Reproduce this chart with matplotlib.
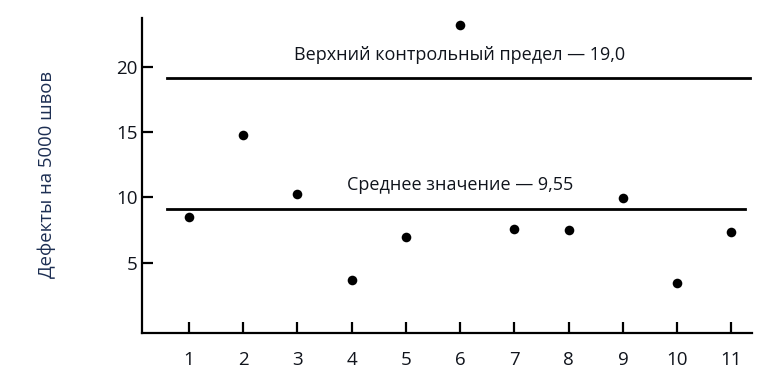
import matplotlib
matplotlib.use("Agg")
import matplotlib.pyplot as plt

# Data
samples = [1, 2, 3, 4, 5, 6, 7, 8, 9, 10, 11]
defects = [8.47, 14.77, 10.3, 3.7, 6.94, 23.2, 7.55, 7.47, 9.92, 3.47, 7.32]
ucl_value = 19.15
mean_value = 9.15
ucl_label = "Верхний контрольный предел — 19,0"
mean_label = "Среднее значение — 9,55"
y_label = "Дефекты на 5000 швов"
y_ticks = [5, 10, 15, 20]

plt.rcParams['font.family'] = ['Open Sans', 'DejaVu Sans']

fig = plt.figure(figsize=(7.83, 3.78), dpi=100)
ax = fig.add_axes([0.1814, 0.119, 0.7790, 0.833])

ax.scatter(samples, defects, s=48, color='black', zorder=3, linewidths=0)

ax.plot([0.6, 11.35], [ucl_value, ucl_value], color='black', lw=2.0)
ax.plot([0.6, 11.26], [mean_value, mean_value], color='black', lw=2.0)

ax.text(2.94, 20.2, ucl_label, fontsize=13, ha='left', va='bottom', color='#10141c')
ax.text(3.91, 10.3, mean_label, fontsize=13, ha='left', va='bottom', color='#10141c')

ax.set_xlim(0.134, 11.38)
ax.set_ylim(-0.4, 23.75)
ax.set_xticks(samples)
ax.set_xticklabels([str(s) for s in samples])
ax.set_yticks(y_ticks)

for side in ['top', 'right']:
    ax.spines[side].set_visible(False)
for side in ['left', 'bottom']:
    ax.spines[side].set_linewidth(1.6)

ax.tick_params(axis='both', direction='in', length=8, width=1.6, labelsize=13.5,
               labelcolor='#10141c')
ax.tick_params(axis='x', pad=13)
ax.tick_params(axis='y', pad=3)

fig.text(47/783, 1 - 175/378, y_label, rotation=90, fontsize=13.3,
         ha='center', va='center', color='#1c2e52')

fig.savefig("out.png", dpi=100)
